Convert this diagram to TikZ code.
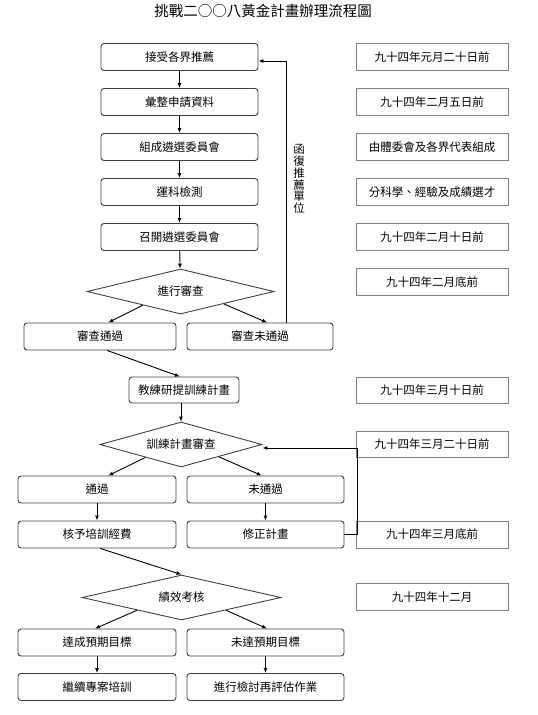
\documentclass[tikz,border=0pt]{standalone}
\usepackage{fontspec}
\setmainfont{Noto Sans CJK TC}
\usetikzlibrary{shapes.geometric,arrows.meta}
\begin{document}
\begin{tikzpicture}[
    x=1pt, y=-1pt,
    line width=0.9pt,
    every node/.style={inner sep=0pt, font=\fontsize{11.5}{12}\selectfont},
    stage/.style={draw=black!75, rounded corners=3pt, minimum height=27pt},
    note/.style={draw=black!50, minimum width=152pt, minimum height=27pt},
    check/.style={draw=black!75, diamond, shape aspect=4, minimum height=45pt},
    link/.style={draw, -{Latex[length=5pt,width=4pt]}}
]
\useasboundingbox (0,0) rectangle (538,715);
\node (title) at (263,11) {\fontsize{14.5}{15}\selectfont 挑戰二○○八黃金計畫辦理流程圖};

\node[stage, minimum width=157pt] (b1) at (179.5,57) {接受各界推薦};
\node[stage, minimum width=157pt] (b2) at (179.5,102) {彙整申請資料};
\node[stage, minimum width=157pt] (b3) at (179.5,147) {組成遴選委員會};
\node[stage, minimum width=157pt] (b4) at (179.5,192) {運科檢測};
\node[stage, minimum width=157pt] (b5) at (179.5,237) {召開遴選委員會};
\node[check, minimum width=187pt] (d1) at (180.5,291.5) {進行審查};
\node[stage, minimum width=152pt] (a1) at (100,336.5) {審查通過};
\node[stage, minimum width=146pt] (a2) at (260,336.5) {審查未通過};

\node[stage, minimum width=110pt, minimum height=26pt] (p1) at (184,390) {教練研提訓練計畫};
\node[check, minimum width=162pt] (d2) at (181,444.5) {訓練計畫審查};
\node[stage, minimum width=158pt] (c1) at (97,489.5) {通過};
\node[stage, minimum width=157pt] (c2) at (265.5,489.5) {未通過};
\node[stage, minimum width=158pt] (f1) at (97,534.5) {核予培訓經費};
\node[stage, minimum width=157pt] (f2) at (265.5,534.5) {修正計畫};

\node[check, minimum width=199pt] (d3) at (181.5,597.5) {績效考核};
\node[stage, minimum width=158pt] (e1) at (97,642.5) {達成預期目標};
\node[stage, minimum width=157pt] (e2) at (265.5,642.5) {未達預期目標};
\node[stage, minimum width=158pt] (g1) at (97,687) {繼續專案培訓};
\node[stage, minimum width=157pt] (g2) at (265.5,687) {進行檢討再評估作業};

\node[note] (n1) at (432,57) {九十四年元月二十日前};
\node[note] (n2) at (432,102) {九十四年二月五日前};
\node[note] (n3) at (432,147) {由體委會及各界代表組成};
\node[note] (n4) at (432,192) {分科學、經驗及成績選才};
\node[note] (n5) at (432,237) {九十四年二月十日前};
\node[note] (n6) at (432,282) {九十四年二月底前};
\node[note, minimum height=26pt] (n7) at (432,390) {九十四年三月十日前};
\node[note, minimum height=26pt] (n8) at (432,444) {九十四年三月二十日前};
\node[note] (n9) at (432,534.5) {九十四年三月底前};
\node[note] (n10) at (432,597) {九十四年十二月};

\node[align=center, font=\fontsize{11.5}{11.7}\selectfont] (reply) at (299,179) {函\\復\\推\\薦\\單\\位};

\draw[link] (b1) -- (b2);
\draw[link] (b2) -- (b3);
\draw[link] (b3) -- (b4);
\draw[link] (b4) -- (b5);
\draw[link] (b5) -- (d1);
\draw[link] (d1.200) -- (a1.59);
\draw[link] (d1.-16) -- (a2.63);
\coordinate (fb) at (286,61);
\draw[link] (a2.north -| fb) -- (fb) -- (fb -| b1.east);
\draw[link] (a1.-63) -- (p1.107);
\draw[link] (d2.north |- p1.south) -- (d2.north);
\draw[link] (d2.200) -- (c1.51);
\draw[link] (d2.-18) -- (c2.105);
\draw[link] (c1) -- (f1);
\draw[link] (c2) -- (f2);
\coordinate (lp) at (357,448);
\draw[link] (f2.east) -| (lp) -- (lp -| d2.east);
\draw[link] (f1.-77) -- (d3.north);
\draw[link] (d3.196) -- (e1.98);
\draw[link] (d3.-16) -- (e2.84);
\draw[link] (e1) -- (g1);
\draw[link] (e2) -- (g2);
\end{tikzpicture}
\end{document}
